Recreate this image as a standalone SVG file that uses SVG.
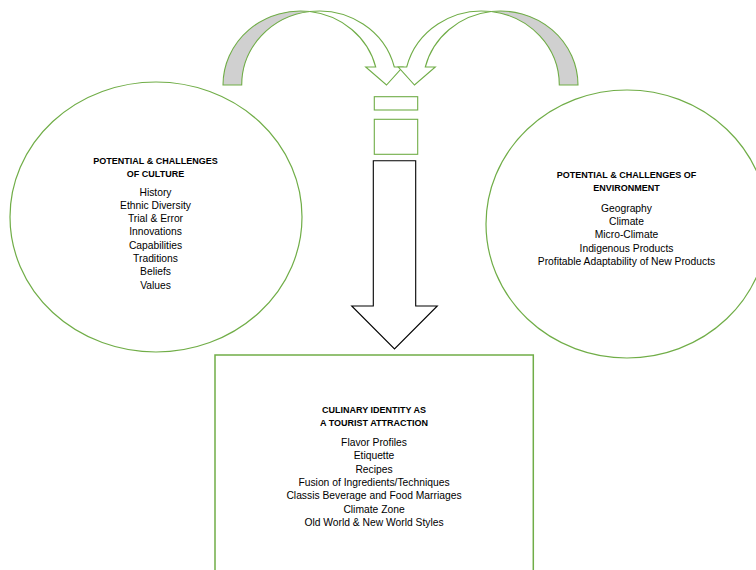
<svg xmlns="http://www.w3.org/2000/svg" width="756" height="570" viewBox="0 0 756 570">
<style>
.bg{fill:#ffffff}
.node{fill:#ffffff;stroke:#70ad47;stroke-width:1.2}
.box{fill:#ffffff;stroke:#70ad47;stroke-width:1.5}
.band{fill:#ffffff;stroke:#70ad47;stroke-width:1.1;stroke-linejoin:miter}
.back{fill:#d0d0d0;stroke:#70ad47;stroke-width:1.1}
.blk{fill:#ffffff;stroke:#000000;stroke-width:1.1}
.t{font-family:"Liberation Sans",Arial,sans-serif;fill:#000000;text-anchor:middle}
.h{font-size:9px;font-weight:bold}
.i{font-size:10.3px}
</style>
<defs>
<g id="curvedArrow">
<path class="back" d="M223,85 A77.5,74 0 0 1 309.85,11.54 A77.5,74 0 0 0 241.7,85 Z"/>
<path class="band" d="M309.85,11.54 A77.5,74 0 0 1 394.3,67 L402.7,67 L386.5,85 L365.7,67 L375.7,67 A77.5,74 0 0 0 309.85,11.54 Z"/>
</g>
</defs>
<rect class="bg" x="0" y="0" width="756" height="570"/>
<g id="node-culture">
<ellipse class="node" cx="156" cy="217" rx="146" ry="135"/>
<text class="t h" x="155.5" y="163.5">POTENTIAL &amp; CHALLENGES</text>
<text class="t h" x="155.5" y="177.3">OF CULTURE</text>
<text class="t i" x="155.5" y="195.5">History</text>
<text class="t i" x="155.5" y="208.8">Ethnic Diversity</text>
<text class="t i" x="155.5" y="222.1">Trial &amp; Error</text>
<text class="t i" x="155.5" y="235.4">Innovations</text>
<text class="t i" x="155.5" y="248.7">Capabilities</text>
<text class="t i" x="155.5" y="262">Traditions</text>
<text class="t i" x="155.5" y="275.3">Beliefs</text>
<text class="t i" x="155.5" y="288.6">Values</text>
</g>
<g id="node-environment">
<ellipse class="node" cx="627" cy="224" rx="141" ry="134"/>
<text class="t h" x="626.5" y="177.5">POTENTIAL &amp; CHALLENGES OF</text>
<text class="t h" x="626.5" y="190.8">ENVIRONMENT</text>
<text class="t i" x="626.5" y="211.5">Geography</text>
<text class="t i" x="626.5" y="224.9">Climate</text>
<text class="t i" x="626.5" y="238.3">Micro-Climate</text>
<text class="t i" x="626.5" y="251.7">Indigenous Products</text>
<text class="t i" x="626.5" y="265.1">Profitable Adaptability of New Products</text>
</g>
<g id="node-culinary">
<rect class="box" x="215" y="355" width="318.3" height="230"/>
<text class="t h" x="374" y="412.5">CULINARY IDENTITY AS</text>
<text class="t h" x="374" y="426">A TOURIST ATTRACTION</text>
<text class="t i" x="374" y="446">Flavor Profiles</text>
<text class="t i" x="374" y="459.3">Etiquette</text>
<text class="t i" x="374" y="472.6">Recipes</text>
<text class="t i" x="374" y="486">Fusion of Ingredients/Techniques</text>
<text class="t i" x="374" y="499.3">Classis Beverage and Food Marriages</text>
<text class="t i" x="374" y="512.6">Climate Zone</text>
<text class="t i" x="374" y="526">Old World &amp; New World Styles</text>
</g>
<g id="connectors">
<use href="#curvedArrow"/>
<use href="#curvedArrow" transform="translate(801,0) scale(-1,1)"/>
<rect class="band" x="374.3" y="96.7" width="43.4" height="13.3"/>
<rect class="band" x="374.3" y="119.3" width="43.4" height="35"/>
<polygon class="blk" points="373.3,160.7 415.7,160.7 415.7,306 437.3,306 394.5,349 351.7,306 373.3,306"/>
</g>
</svg>
